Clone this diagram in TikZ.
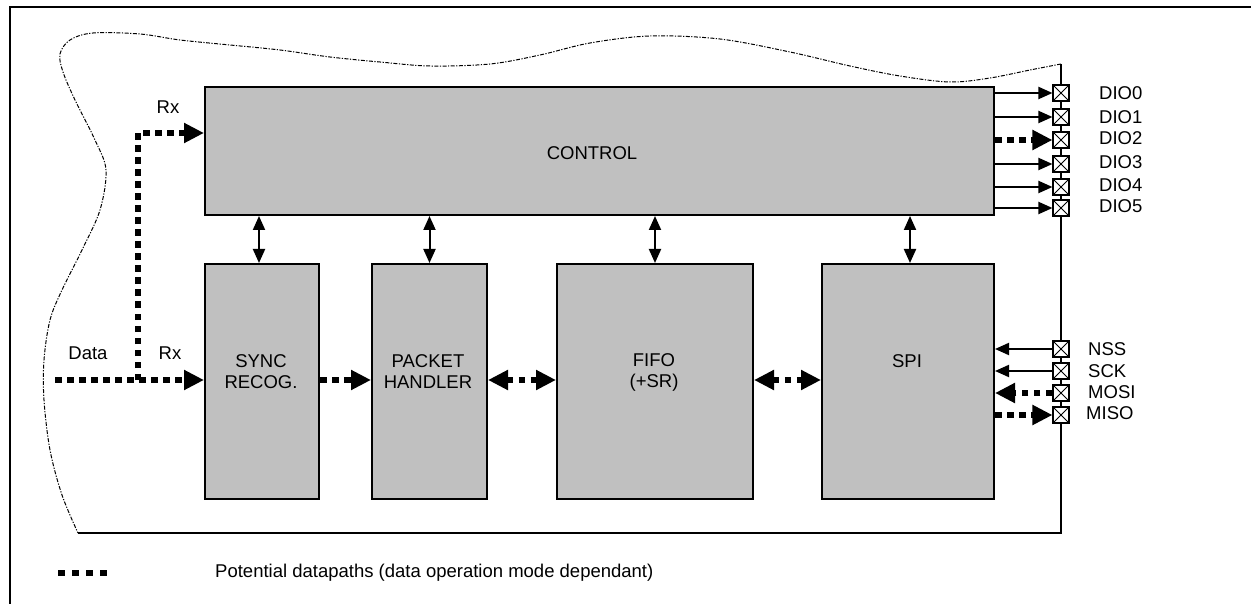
\documentclass[tikz,border=0pt]{standalone}
\usepackage{fontspec}
\setmainfont{Liberation Sans}
\usetikzlibrary{arrows.meta}
\definecolor{boxgray}{RGB}{192,192,192}
\begin{document}
\begin{tikzpicture}[x=1pt,y=-1pt,
  blk/.style={draw, line width=2pt, fill=boxgray, inner sep=0pt, anchor=north west},
  lbl/.style={inner sep=0pt, font=\fontsize{18.5}{21}\selectfont, align=center},
  pinbox/.style={draw, line width=1.6pt, fill=white, minimum size=15.5pt, inner sep=0pt,
    path picture={\draw[line width=1pt] (path picture bounding box.south west) -- (path picture bounding box.north east)
      (path picture bounding box.north west) -- (path picture bounding box.south east);}},
  thinarr/.style={line width=2pt, -{Triangle[length=14pt,width=12pt]}},
  dblarr/.style={line width=2pt, {Triangle[length=14pt,width=12pt]}-{Triangle[length=14pt,width=12pt]}},
  dotline/.style={line width=6.5pt, dash pattern=on 6.5pt off 5.5pt, line join=miter},
  dotarr/.style={dotline, -{Triangle[length=20pt,width=19pt]}},
  dotdbl/.style={dotline, {Triangle[length=20pt,width=19pt]}-{Triangle[length=20pt,width=19pt]}},
  wave/.style={line width=1pt, dash pattern=on 4pt off 1.5pt on 1.2pt off 1.5pt},
]
\useasboundingbox (0,0) rectangle (1251,604);
% outer frame
\coordinate (fbl) at (9.5,604);
\coordinate (ftl) at (9.5,7.5);
\coordinate (ftr) at (1251,7.5);
\draw[line width=2pt] (fbl) -- (ftl) -- (ftr);

% chip boundary
\coordinate (wr) at (1061,64);
\coordinate (wb) at (78,533);
\coordinate (wc) at (1061,533);
\draw[wave] plot[smooth, tension=0.55] coordinates {
 (1061,64) (1030,70) (990,78) (950,82) (900,76) (850,66) (790,52) (720,39) (650,36)
 (590,43) (540,55) (490,64) (430,66) (380,62) (330,57) (280,50) (230,45) (180,40)
 (140,34) (93,33) (70,40) (60,54) (63,72) (75,100) (95,140) (106,170) (100,210)
 (82,250) (62,290) (50,320) (44,360) (44,400) (50,450) (62,495) (78,533)};
\draw[line width=1.5pt] (wb) -- (wc) -- (wr);

% blocks
\node[blk, minimum width=789pt, minimum height=128pt] (ctrl) at (204,86) {};
\node[blk, minimum width=114pt, minimum height=235pt] (sync) at (204,263) {};
\node[blk, minimum width=115pt, minimum height=235pt] (pkt) at (371,263) {};
\node[blk, minimum width=196pt, minimum height=235pt] (fifo) at (556,263) {};
\node[blk, minimum width=172pt, minimum height=235pt] (spi) at (821,263) {};

\node[lbl] (ctrlT) at (592,153) {CONTROL};
\node[lbl] (syncT) at (261,372) {SYNC\\RECOG.};
\node[lbl] (pktT) at (428,372) {PACKET\\HANDLER};
\node[lbl] (fifoT) at (654,372) {FIFO\\(+SR)};
\node[lbl] (spiT) at (907,361) {SPI};

% control <-> blocks
\draw[dblarr] (ctrl.south -| 259,0) -- (sync.north -| 259,0);
\draw[dblarr] (ctrl.south -| pkt.north) -- (pkt.north);
\draw[dblarr] (ctrl.south -| fifo.north) -- (fifo.north);
\draw[dblarr] (ctrl.south -| 910,0) -- (spi.north -| 910,0);

% datapaths
\coordinate (dstart) at (55,380);
\coordinate (branch) at (138,380);
\coordinate (corner) at (138,133);
\draw[dotarr] (dstart) -- (sync.west |- dstart);
\draw[dotarr] (branch) -- (corner) -- (ctrl.west |- corner);
\draw[dotarr] (sync.east |- dstart) -- (pkt.west |- dstart);
\draw[dotdbl] (pkt.east |- dstart) -- (fifo.west |- dstart);
\draw[dotdbl] (fifo.east |- dstart) -- (spi.west |- dstart);

\node[lbl] (rxT1) at (168,107) {Rx};
\node[lbl] (dataT) at (88,353) {Data};
\node[lbl] (rxT2) at (170,353) {Rx};

% DIO pins
\node[pinbox] (d0) at (1061,93) {};
\node[pinbox] (d1) at (1061,117) {};
\node[pinbox] (d2) at (1061,140) {};
\node[pinbox] (d3) at (1061,164) {};
\node[pinbox] (d4) at (1061,187) {};
\node[pinbox] (d5) at (1061,208) {};
\draw[thinarr] (ctrl.east |- d0) -- (d0.west);
\draw[thinarr] (ctrl.east |- d1) -- (d1.west);
\draw[dotarr] (ctrl.east |- d2) -- (d2.west);
\draw[thinarr] (ctrl.east |- d3) -- (d3.west);
\draw[thinarr] (ctrl.east |- d4) -- (d4.west);
\draw[thinarr] (ctrl.east |- d5) -- (d5.west);
\node[lbl, anchor=west] (d0l) at (1099,93) {DIO0};
\node[lbl, anchor=west] (d1l) at (1099,117) {DIO1};
\node[lbl, anchor=west] (d2l) at (1099,138) {DIO2};
\node[lbl, anchor=west] (d3l) at (1099,162) {DIO3};
\node[lbl, anchor=west] (d4l) at (1099,185) {DIO4};
\node[lbl, anchor=west] (d5l) at (1099,206) {DIO5};

% SPI pins
\node[pinbox] (nss) at (1061,349) {};
\node[pinbox] (sck) at (1061,371) {};
\node[pinbox] (mosi) at (1061,393) {};
\node[pinbox] (miso) at (1061,415) {};
\draw[thinarr] (nss.west) -- (spi.east |- nss);
\draw[thinarr] (sck.west) -- (spi.east |- sck);
\draw[dotarr] (mosi.west) -- (spi.east |- mosi);
\draw[dotarr] (spi.east |- miso) -- (miso.west);
\node[lbl, anchor=west] (nssl) at (1088,349) {NSS};
\node[lbl, anchor=west] (sckl) at (1088,371) {SCK};
\node[lbl, anchor=west] (mosil) at (1088,392) {MOSI};
\node[lbl, anchor=west] (misol) at (1086,413) {MISO};

% legend
\coordinate (lg1) at (58,573);
\coordinate (lg2) at (107,573);
\draw[dotline, dash pattern=on 7pt off 7pt] (lg1) -- (lg2);
\node[lbl, anchor=west] (legT) at (215,573) {Potential datapaths (data operation mode dependant)};
\end{tikzpicture}
\end{document}
